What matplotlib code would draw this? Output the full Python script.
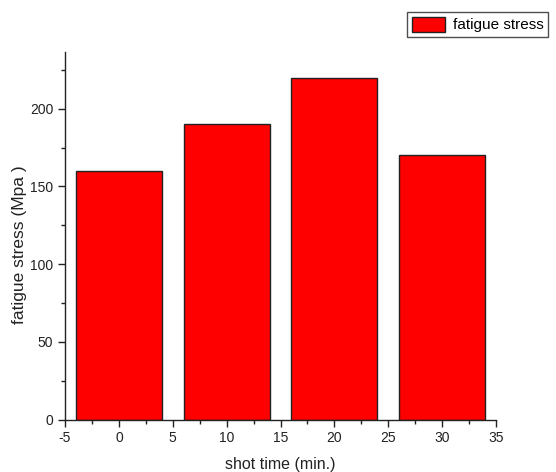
import numpy as np
import matplotlib.pyplot as plt
from matplotlib.ticker import MultipleLocator

# shot peening time vs. fatigue stress
shot_time = [0, 10, 20, 30]
fatigue_stress = [160, 190, 220, 170]

plt.rcParams['font.family'] = ['Liberation Sans Narrow', 'Liberation Sans', 'DejaVu Sans']
plt.rcParams['axes.unicode_minus'] = False

fig = plt.figure(figsize=(5.56, 4.72), dpi=100)
ax = fig.add_axes([0.117, 0.111, 0.775, 0.779])

ax.bar(shot_time, fatigue_stress, width=8, color='#ff0000', edgecolor='#222222',
       linewidth=1.0, label='fatigue stress')

ax.set_xlim(-5, 35)
ax.set_ylim(0, 236.5)
ax.xaxis.set_major_locator(MultipleLocator(5))
ax.xaxis.set_minor_locator(MultipleLocator(2.5))
ax.yaxis.set_major_locator(MultipleLocator(50))
ax.yaxis.set_minor_locator(MultipleLocator(25))

for s in ['top', 'right']:
    ax.spines[s].set_visible(False)
for s in ['left', 'bottom']:
    ax.spines[s].set_linewidth(1.0)
    ax.spines[s].set_color('#222222')

ax.tick_params(which='major', direction='out', length=5, width=1, labelsize=10, colors='#222222')
ax.tick_params(which='minor', direction='out', length=3, width=1, colors='#222222')

ax.set_xlabel('shot time (min.)', fontsize=11.5, color='#222222', labelpad=8)
ax.set_ylabel('fatigue stress (Mpa )', fontsize=12.5, color='#222222')
ax.yaxis.set_label_coords(-0.088, 0.475)

leg = fig.legend(loc='upper right', bbox_to_anchor=(1.0, 0.99), fontsize=11,
                 frameon=True, fancybox=False, edgecolor='#222222',
                 handlelength=2.2, handleheight=1.1, borderpad=0.3, handletextpad=0.5)
leg.get_frame().set_linewidth(1.0)

fig.savefig('out.png', dpi=100)
